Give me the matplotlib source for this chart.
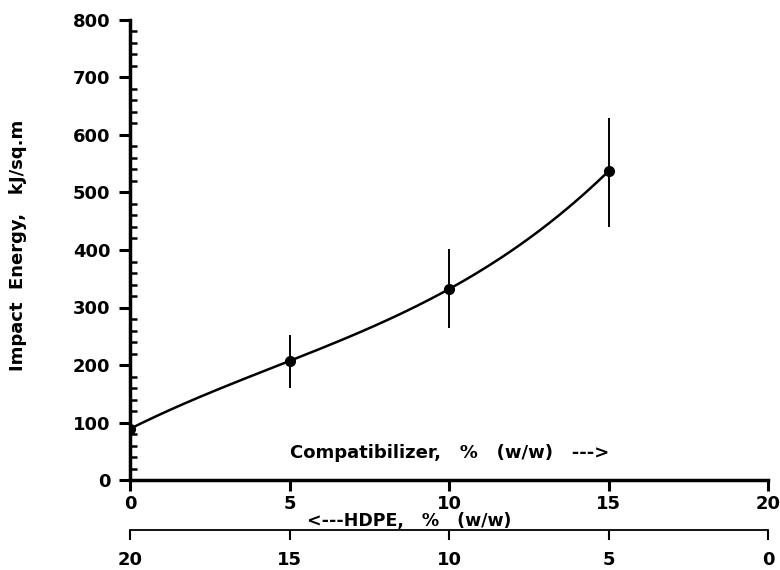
import matplotlib.pyplot as plt
import numpy as np

plt.rcParams['font.family'] = ['DejaVu Sans']
plt.rcParams['font.weight'] = 'bold'

compat = [0, 5, 10, 15]
energy = [89, 207, 332, 537]
err_low = [0, 47, 68, 97]
err_high = [0, 45, 70, 93]

xticks = [0, 5, 10, 15, 20]
yticks = [0, 100, 200, 300, 400, 500, 600, 700, 800]

fig = plt.figure(figsize=(7.8, 5.7), dpi=100)
ax = fig.add_axes([130/780, 1 - 480/570, 638/780, 460/570])

# smooth curve through the points
c = np.polyfit(compat, energy, 3)
xs = np.linspace(0, 15, 200)
ax.plot(xs, np.polyval(c, xs), color='black', lw=1.8)
ax.errorbar(compat, energy, yerr=[err_low, err_high], fmt='o', color='black',
            ms=7, elinewidth=1.4, capsize=0)

ax.set_xlim(0, 20)
ax.set_ylim(0, 800)
ax.set_xticks(xticks)
ax.set_yticks(yticks)
ax.set_yticks(np.arange(0, 801, 20), minor=True)
ax.spines['top'].set_visible(False)
ax.spines['right'].set_visible(False)
ax.spines['left'].set_linewidth(2.5)
ax.spines['bottom'].set_linewidth(2.5)
ax.tick_params(axis='both', which='major', direction='out', length=8, width=2.2,
               labelsize=13, pad=6)
ax.tick_params(axis='x', which='major', pad=3)
ax.tick_params(axis='y', which='minor', direction='in', length=5, width=1.8)
for lab in ax.get_xticklabels() + ax.get_yticklabels():
    lab.set_fontweight('bold')

fig.text(18/780, 1 - 245/570, 'Impact  Energy,   kJ/sq.m', rotation=90,
         fontsize=13, fontweight='bold', ha='center', va='center')

ax.text(5.0, 47, 'Compatibilizer,   %   (w/w)   --->', fontsize=13,
        fontweight='bold', va='center', ha='left')

# HDPE axis underneath
sec = ax.secondary_xaxis(-0.109, functions=(lambda x: 20 - x, lambda x: 20 - x))
sec.set_xticks([20, 15, 10, 5, 0])
sec.spines['bottom'].set_linewidth(1.3)
sec.tick_params(direction='out', length=7, width=1.5, labelsize=13, pad=8)
for lab in sec.get_xticklabels():
    lab.set_fontweight('bold')

ax.text(5.55, -0.109, '<---HDPE,   %   (w/w)', transform=ax.get_xaxis_transform(),
        fontsize=12.5, fontweight='bold', va='bottom', ha='left')

fig.savefig('out.png', dpi=100)
